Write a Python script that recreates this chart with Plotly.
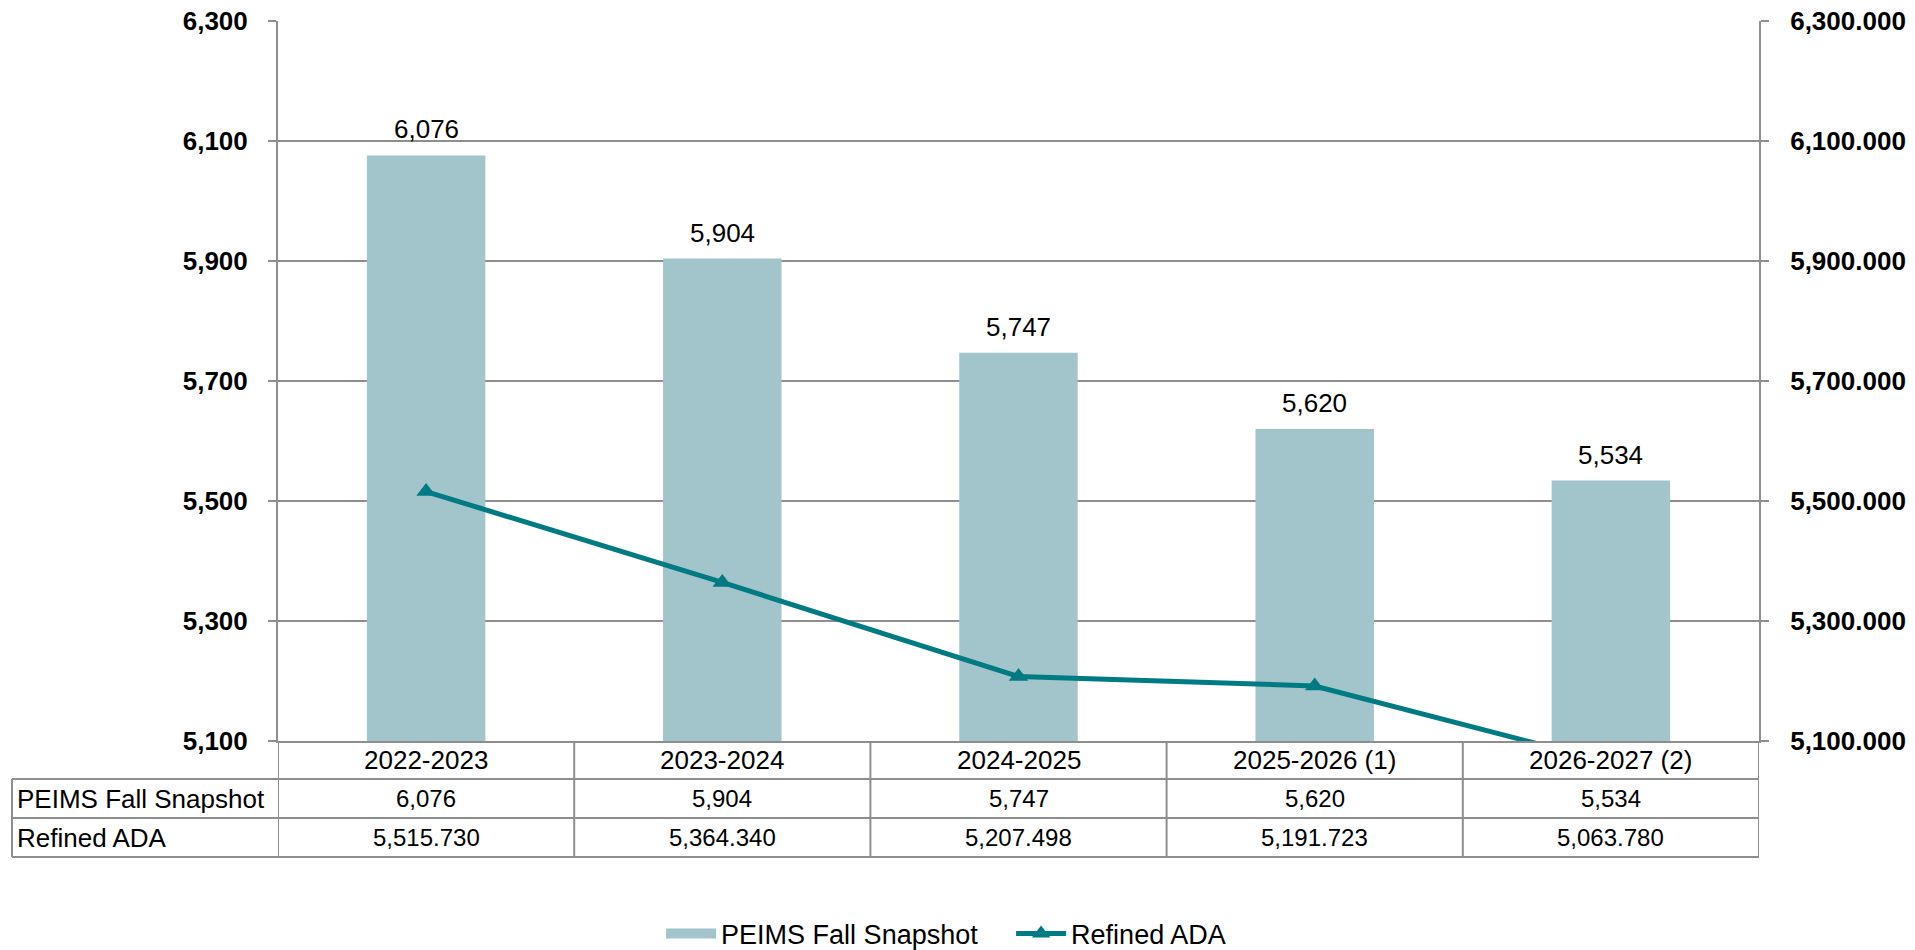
import plotly.graph_objects as go

categories = ["2022-2023", "2023-2024", "2024-2025", "2025-2026 (1)", "2026-2027 (2)"]
peims = [6076, 5904, 5747, 5620, 5534]
refined_ada = [5515.730, 5364.340, 5207.498, 5191.723, 5063.780]
row_labels = ["PEIMS Fall Snapshot", "Refined ADA"]
y_ticks = [5100, 5300, 5500, 5700, 5900, 6100, 6300]

BAR = "#A2C4CB"
LINE = "#007B83"
GRID = "#8E8E8E"
FONT = "Liberation Sans, Arial, sans-serif"

W, H = 1915, 950
ML, MR, MT, MB = 278, 156, 21, 209
PH = H - MT - MB
PW = W - ML - MR

def py(Y):
    return (H - MB - Y) / PH

def px(X):
    return (X - ML) / PW

fig = go.Figure()
fig.add_trace(go.Bar(
    x=categories, y=peims, name=row_labels[0], showlegend=False,
    marker=dict(color=BAR, line=dict(width=0)), width=0.4,
    yaxis="y",
))
# legend proxy for the bar series (wide rectangular swatch)
fig.add_trace(go.Scatter(
    x=categories[:1], y=[None], name=row_labels[0], mode="lines",
    line=dict(color=BAR, width=15), yaxis="y", hoverinfo="skip",
))
fig.add_trace(go.Scatter(
    x=categories, y=refined_ada, name=row_labels[1], mode="lines+markers",
    line=dict(color=LINE, width=5),
    marker=dict(symbol="triangle-up", size=17, color=LINE),
    yaxis="y2",
))

annotations = []
for c, v in zip(categories, peims):
    annotations.append(dict(x=c, y=v, xref="x", yref="y", text=f"{v:,}",
                            showarrow=False, yanchor="bottom", yshift=9,
                            font=dict(size=26, color="black", family=FONT)))

LF = 26   # text labels in table
NF = 24   # numbers in table
row_edges = [741, 779, 818, 857]
row_centers = [(row_edges[i] + row_edges[i + 1]) / 2 for i in range(3)]
for i, c in enumerate(categories):
    annotations.append(dict(x=c, y=py(row_centers[0]), xref="x", yref="paper", text=c,
                            showarrow=False, yanchor="middle",
                            font=dict(size=LF, color="black", family=FONT)))
    annotations.append(dict(x=c, y=py(row_centers[1]), xref="x", yref="paper", text=f"{peims[i]:,}",
                            showarrow=False, yanchor="middle",
                            font=dict(size=NF, color="black", family=FONT)))
    annotations.append(dict(x=c, y=py(row_centers[2]), xref="x", yref="paper", text=f"{refined_ada[i]:,.3f}",
                            showarrow=False, yanchor="middle",
                            font=dict(size=NF, color="black", family=FONT)))
for j, lab in enumerate(row_labels):
    annotations.append(dict(x=px(15), y=py(row_centers[j + 1]), xref="paper", yref="paper", text=lab,
                            showarrow=False, xanchor="left", yanchor="middle",
                            font=dict(size=LF, color="black", family=FONT)))

shapes = []
for i in range(len(categories) + 1):
    shapes.append(dict(type="line", xref="x", yref="paper", x0=i - 0.5, x1=i - 0.5,
                       y0=py(row_edges[0]), y1=py(row_edges[3]), line=dict(color=GRID, width=2)))
shapes.append(dict(type="line", xref="paper", yref="paper", x0=px(12), x1=px(12),
                   y0=py(row_edges[1]), y1=py(row_edges[3]), line=dict(color=GRID, width=2)))
for Y in row_edges[1:]:
    shapes.append(dict(type="line", xref="paper", yref="paper", x0=px(12), x1=1,
                       y0=py(Y), y1=py(Y), line=dict(color=GRID, width=2)))

fig.update_layout(
    width=W, height=H, autosize=False,
    margin=dict(l=ML, r=MR, t=MT, b=MB, pad=0, autoexpand=False),
    paper_bgcolor="white", plot_bgcolor="white",
    font=dict(family=FONT, color="black"),
    showlegend=True,
    legend=dict(orientation="h", x=0.495, xanchor="center",
                yref="container", y=(H - 934) / H, yanchor="middle",
                font=dict(size=27, family=FONT), tracegroupgap=0,
                itemwidth=50,
                entrywidth=285, entrywidthmode="pixels",
                bgcolor="rgba(0,0,0,0)"),
    xaxis=dict(type="category", showticklabels=False, ticks="", showgrid=False, automargin=False,
               showline=True, linecolor=GRID, linewidth=2, range=[-0.5, 4.5], fixedrange=True),
    yaxis=dict(range=[5100, 6300], tickvals=y_ticks, tickformat=",d", automargin=False,
               ticks="outside", ticklen=8, tickwidth=2, tickcolor=GRID,
               showgrid=True, gridcolor=GRID, gridwidth=2,
               showline=True, linecolor=GRID, linewidth=2, zeroline=False,
               tickfont=dict(size=26, weight="bold", color="black", family=FONT),
               ticklabelstandoff=15),
    yaxis2=dict(range=[5100, 6300], tickvals=y_ticks, tickformat=",.3f", automargin=False,
                overlaying="y", side="right",
                ticks="outside", ticklen=8, tickwidth=2, tickcolor=GRID,
                showgrid=False, showline=True, linecolor=GRID, linewidth=2, zeroline=False,
                tickfont=dict(size=26, weight="bold", color="black", family=FONT),
                ticklabelstandoff=16),
    annotations=annotations,
    shapes=shapes,
)

fig.write_html("out.html", config={"displayModeBar": False},
               post_script="document.body.style.margin='0';document.body.style.overflow='hidden';")
